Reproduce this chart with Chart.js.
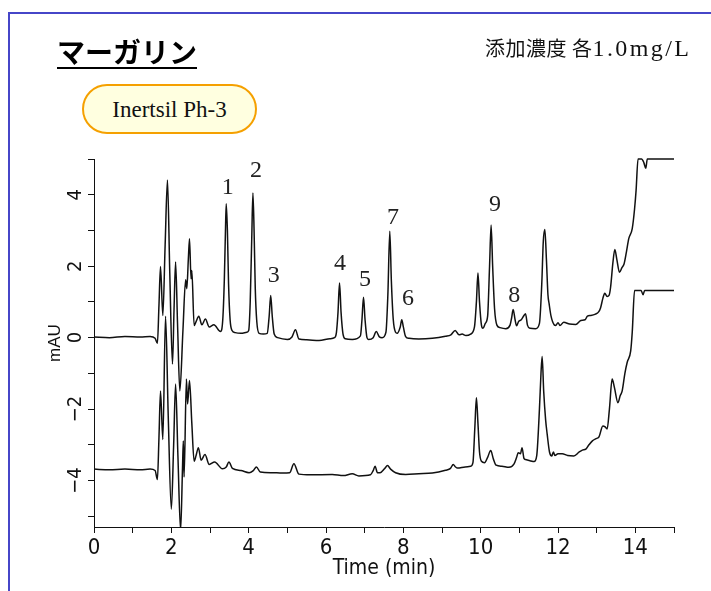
<!DOCTYPE html>
<html>
<head>
<meta charset="utf-8">
<script src="https://cdn.jsdelivr.net/npm/chart.js@4.4.0/dist/chart.umd.min.js"></script>
<style>
  body { margin: 0; background: #fff; width: 711px; height: 591px; overflow: hidden; position: relative; }
  canvas { position: absolute; left: 0; top: 0; }
  #frame { position: absolute; left: 8px; top: 12px; width: 720px; height: 600px;
           border-left: 2px solid #4646c8; border-top: 2px solid #4646c8; }
  #title { position: absolute; left: 57px; top: 37px; font: bold 28px "Noto Sans CJK JP", sans-serif;
           line-height: 28px; padding-bottom: 2px; border-bottom: 2px solid #000; color: #000; }
  #conc { position: absolute; left: 485px; top: 33px; color: #111; white-space: nowrap; }
  #conc .jp { font: 20px "Noto Sans CJK JP", sans-serif; letter-spacing: 0.5px; }
  #conc .en { font: 24px "Liberation Serif", serif; letter-spacing: 2.4px; }
  #column { position: absolute; left: 82px; top: 84px; width: 171px; height: 46px;
            border: 2px solid #f5a000; border-radius: 25px; background: #ffffe0;
            text-align: center; font: 23px "Liberation Serif", serif; line-height: 48px; color: #111; }
</style>
</head>
<body>
<canvas id="chromChart" width="711" height="591"></canvas>
<div id="frame"></div>
<div id="title">マーガリン</div>
<div id="conc"><span class="jp">添加濃度 各</span><span class="en">1.0mg/L</span></div>
<div id="column">Inertsil Ph-3</div>
<script>
// upper trace (standard added), time in min / absorbance in mAU
const timeA = [0.00, 0.40, 0.80, 1.20, 1.45, 1.58, 1.64, 1.68, 1.72, 1.78, 1.84, 1.90, 1.96, 2.03, 2.07, 2.11, 2.16, 2.22,
  2.30, 2.37, 2.40, 2.44, 2.47, 2.51, 2.53, 2.59, 2.64, 2.71, 2.79, 2.88, 2.98, 3.10, 3.27,
  3.33, 3.37, 3.40, 3.42, 3.45, 3.48, 3.52, 3.57, 3.65, 3.80, 3.95,
  4.00, 4.04, 4.08, 4.11, 4.14, 4.17, 4.21, 4.27, 4.38,
  4.48, 4.53, 4.57, 4.61, 4.66, 4.75, 5.00, 5.12, 5.21, 5.30, 5.50, 5.82, 6.10, 6.22,
  6.27, 6.31, 6.35, 6.39, 6.44, 6.50, 6.68,
  6.89, 6.93, 6.97, 7.01, 7.06, 7.10, 7.22, 7.30, 7.38, 7.45,
  7.55, 7.60, 7.65, 7.69, 7.74, 7.80, 7.84, 7.92, 7.96, 8.00, 8.06, 8.15, 8.40, 8.75, 9.09, 9.23, 9.34, 9.44, 9.52, 9.62, 9.74,
  9.84, 9.89, 9.93, 9.97, 10.02, 10.06, 10.12,
  10.18, 10.23, 10.27, 10.31, 10.36, 10.42, 10.50, 10.65, 10.76,
  10.80, 10.84, 10.89, 10.93, 10.98, 11.05, 11.12, 11.16, 11.21, 11.28, 11.42,
  11.52, 11.58, 11.62, 11.66, 11.70, 11.74, 11.77, 11.82, 11.90, 11.94, 12.00, 12.05, 12.15, 12.30, 12.46, 12.59, 12.70,
  12.76, 12.85, 12.97, 13.05, 13.10, 13.16, 13.21, 13.27, 13.32, 13.36, 13.42, 13.47, 13.52, 13.59, 13.65, 13.71, 13.77,
  13.83, 13.92, 13.98, 14.02, 14.07, 14.16, 14.22, 14.27, 14.31, 15.00];
const mauA = [0.02, 0.00, 0.03, 0.02, 0.03, -0.02, -0.16, 0.90, 1.99, 0.62, 2.60, 4.41, 1.80, -0.74, 0.80, 2.12, 0.40, -1.49,
  0.20, 1.62, 1.37, 2.20, 2.77, 1.65, 1.88, 0.34, 0.45, 0.60, 0.36, 0.52, 0.30, 0.36, 0.17,
  0.50, 1.60, 3.00, 3.75, 3.00, 1.50, 0.50, 0.20, 0.14, 0.12, 0.15,
  0.20, 1.00, 2.80, 4.05, 3.00, 1.40, 0.45, 0.12, 0.10,
  0.12, 0.60, 1.18, 0.60, 0.10, 0.00, -0.05, 0.02, 0.22, -0.04, -0.06, -0.08, -0.03, 0.00,
  0.15, 0.70, 1.53, 0.70, 0.10, -0.03, -0.05,
  0.05, 0.50, 1.13, 0.50, 0.00, -0.05, 0.00, 0.17, 0.02, 0.00,
  0.15, 1.20, 2.98, 1.60, 0.50, 0.15, 0.12, 0.30, 0.50, 0.30, 0.03, -0.02, -0.04, -0.02, 0.04, 0.08, 0.20, 0.08, 0.10, 0.06, 0.10,
  0.30, 1.00, 1.81, 1.00, 0.35, 0.26, 0.40,
  0.60, 2.00, 3.15, 2.00, 0.80, 0.35, 0.28, 0.25, 0.35,
  0.55, 0.79, 0.50, 0.33, 0.45, 0.50, 0.62, 0.67, 0.35, 0.26, 0.25,
  0.40, 1.50, 2.70, 3.03, 2.20, 1.20, 0.95, 0.60, 0.36, 0.34, 0.42, 0.34, 0.43, 0.38, 0.37, 0.48, 0.50,
  0.60, 0.62, 0.66, 0.72, 0.83, 1.10, 1.24, 1.15, 1.18, 1.41, 2.10, 2.47, 2.20, 1.83, 1.95, 2.07, 2.40,
  2.77, 3.05, 3.60, 4.13, 5.00, 5.00, 4.90, 4.74, 5.00, 5.00];

// lower trace (sample)
const timeB = [0.00, 0.40, 0.80, 1.20, 1.45, 1.58, 1.64, 1.68, 1.72, 1.78, 1.85, 1.92, 2.00, 2.06, 2.11, 2.17, 2.24,
  2.29, 2.31, 2.33, 2.39, 2.42, 2.47, 2.53, 2.59, 2.64, 2.70, 2.77, 2.87, 2.98, 3.12, 3.32, 3.42, 3.49, 3.58, 3.80,
  4.01, 4.12, 4.20, 4.30, 4.60, 4.87, 5.06, 5.17, 5.30, 5.60, 6.16, 6.45, 6.68, 6.85, 7.15, 7.22, 7.27, 7.33, 7.40,
  7.52, 7.59, 7.67, 7.80, 8.06, 8.40, 8.75, 9.09, 9.22, 9.29, 9.35, 9.40, 9.60, 9.74,
  9.80, 9.85, 9.89, 9.93, 9.97, 10.02, 10.10, 10.18, 10.26, 10.33, 10.40, 10.55, 10.73, 10.86, 10.93, 10.97, 11.03,
  11.07, 11.12, 11.16, 11.30, 11.38, 11.45, 11.52, 11.56, 11.59, 11.63, 11.68, 11.72, 11.78, 11.84, 11.88, 11.92,
  12.00, 12.11, 12.25, 12.41, 12.55, 12.63, 12.72, 12.80, 12.89, 13.00, 13.06, 13.16, 13.22, 13.27, 13.33, 13.40,
  13.46, 13.55, 13.61, 13.66, 13.73, 13.79, 13.88, 13.92, 13.98, 14.15, 14.20, 14.24, 15.00];
const mauB = [-3.68, -3.70, -3.68, -3.70, -3.68, -3.72, -3.97, -2.80, -1.49, -2.85, 0.60, -2.20, -4.80, -3.00, -1.30, -3.30, -5.40,
  -3.60, -2.89, -3.90, -1.16, -1.86, -1.20, -2.40, -3.46, -3.30, -3.08, -3.43, -3.27, -3.55, -3.48, -3.67, -3.62, -3.48, -3.66, -3.72,
  -3.78, -3.72, -3.62, -3.76, -3.78, -3.79, -3.78, -3.53, -3.82, -3.84, -3.83, -3.86, -3.81, -3.87, -3.84, -3.72, -3.60, -3.78, -3.78,
  -3.66, -3.58, -3.68, -3.78, -3.83, -3.81, -3.79, -3.71, -3.66, -3.55, -3.62, -3.65, -3.62, -3.60,
  -3.50, -2.50, -1.68, -2.40, -3.20, -3.46, -3.50, -3.35, -3.16, -3.40, -3.57, -3.60, -3.63, -3.54, -3.35, -3.22, -3.25,
  -3.08, -3.38, -3.41, -3.45, -3.47, -3.30, -2.00, -1.00, -0.53, -1.50, -2.30, -2.70, -3.20, -3.31, -3.20, -3.30,
  -3.25, -3.25, -3.30, -3.31, -3.20, -3.15, -3.12, -3.00, -2.89, -2.82, -2.78, -2.47, -2.50, -2.56, -2.00, -1.16,
  -1.40, -1.82, -1.62, -1.49, -1.00, -0.69, -0.37, 0.15, 1.32, 1.32, 1.20, 1.32, 1.32];

// peak numbers placed at (time, mAU)
const peakNames = ['1', '2', '3', '4', '5', '7', '6', '9', '8'];
const peakNameTime = [3.46, 4.19, 4.65, 6.36, 7.01, 7.73, 8.12, 10.37, 10.87];
const peakNameMau = [4.20, 4.68, 1.74, 2.07, 1.62, 3.36, 1.09, 3.73, 1.18];

const toPoints = (ts, ys) => ts.map((t, i) => ({ x: t, y: ys[i] }));

const peakLabelPlugin = {
    id: 'peakLabels',
    afterDatasetsDraw(chart) {
        const { ctx, scales: { x, y } } = chart;
        ctx.save();
        ctx.font = '24px "Liberation Serif", serif';
        ctx.fillStyle = '#222';
        ctx.textAlign = 'center';
        ctx.textBaseline = 'middle';
        peakNames.forEach((name, i) => {
            ctx.fillText(name, x.getPixelForValue(peakNameTime[i]), y.getPixelForValue(peakNameMau[i]));
        });
        ctx.restore();
    }
};

const tickFont = { family: '"Liberation Sans Narrow", "DejaVu Sans Condensed", sans-serif' };

new Chart(document.getElementById('chromChart').getContext('2d'), {
    type: 'line',
    data: {
        datasets: [
            { data: toPoints(timeA, mauA), borderColor: '#111', borderWidth: 1.5, pointRadius: 0,
              cubicInterpolationMode: 'monotone', clip: 2 },
            { data: toPoints(timeB, mauB), borderColor: '#111', borderWidth: 1.5, pointRadius: 0,
              cubicInterpolationMode: 'monotone', clip: 1 }
        ]
    },
    options: {
        responsive: false,
        animation: false,
        devicePixelRatio: 1,
        layout: { padding: { top: 159, right: 37, left: 0, bottom: 0 }, autoPadding: false },
        plugins: { legend: { display: false }, tooltip: { enabled: false } },
        scales: {
            x: {
                type: 'linear',
                min: 0,
                max: 15,
                afterFit: s => { s.height = 64; },
                ticks: {
                    stepSize: 1,
                    autoSkip: false,
                    maxRotation: 0,
                    padding: 2,
                    color: '#111',
                    font: { ...tickFont, size: 22 },
                    callback: v => (v % 2 === 0 ? String(v) : '')
                },
                grid: { drawOnChartArea: false, drawTicks: true, tickLength: 6, color: '#111' },
                border: { color: '#111', width: 1 },
                title: { display: true, text: 'Time (min)', color: '#111',
                         font: { ...tickFont, size: 21 }, padding: { top: 0, bottom: 10 } }
            },
            y: {
                min: -5.3,
                max: 5.0,
                afterFit: s => { s.width = 94; },
                ticks: {
                    stepSize: 1,
                    includeBounds: false,
                    minRotation: 90,
                    maxRotation: 90,
                    crossAlign: 'center',
                    padding: -1,
                    color: '#111',
                    font: { ...tickFont, size: 20 },
                    callback: v => (v % 2 === 0 ? (v < 0 ? '\u2212' + Math.abs(v) : String(v)) : '')
                },
                grid: { drawOnChartArea: false, drawTicks: true, tickLength: 6, color: '#111' },
                border: { color: '#111', width: 1 },
                title: { display: true, text: 'mAU', color: '#111',
                         font: { family: '"Liberation Sans", Arial, sans-serif', size: 17 },
                         padding: { top: 45, bottom: 0 } }
            }
        }
    },
    plugins: [peakLabelPlugin]
});
</script>
</body>
</html>
